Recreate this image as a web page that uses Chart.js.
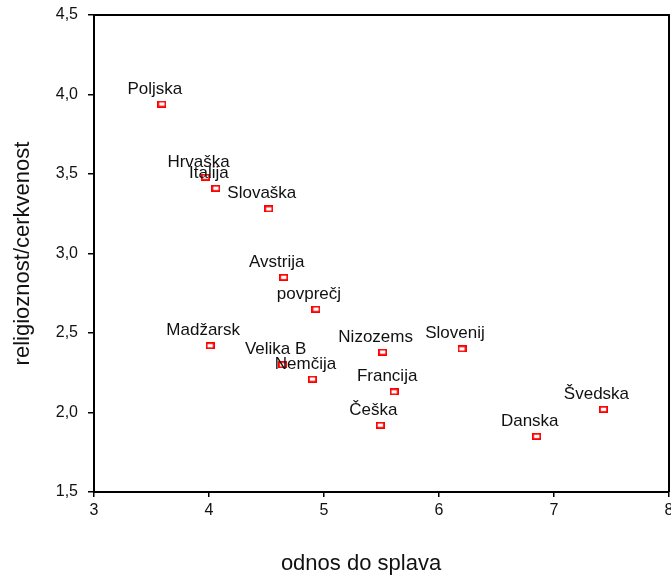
<!DOCTYPE html>
<html>
<head>
<meta charset="utf-8">
<script src="https://cdn.jsdelivr.net/npm/chart.js@4"></script>
<style>
  html, body { margin: 0; padding: 0; background: #fff; }
  #chart { display: block; }
</style>
</head>
<body>
<canvas id="chart" width="671" height="575"></canvas>
<script>
// ---- DATA ----
const countries = ['Poljska', 'Hrvaška', 'Italija', 'Slovaška', 'Avstrija', 'povprečj', 'Madžarsk',
  'Velika B', 'Nemčija', 'Nizozems', 'Slovenij', 'Francija', 'Češka', 'Danska', 'Švedska'];
const abortion = [3.59, 3.97, 4.06, 4.52, 4.65, 4.93, 4.01, 4.64, 4.90, 5.51, 6.20, 5.61, 5.49, 6.85, 7.43];
const religiosity = [3.94, 3.48, 3.41, 3.28, 2.85, 2.65, 2.42, 2.30, 2.21, 2.38, 2.40, 2.13, 1.92, 1.85, 2.02];

const xTitle = 'odnos do splava';
const yTitle = 'religioznost/cerkvenost';

const FONT = 'Liberation Sans, Arial, sans-serif';

// hollow red rectangle marker
function makeMarker() {
  const c = document.createElement('canvas');
  c.width = 9; c.height = 7;
  const g = c.getContext('2d');
  g.strokeStyle = '#ff0000';
  g.lineWidth = 1.8;
  g.strokeRect(0.9, 0.9, 7.2, 5.2);
  return c;
}

// labels above points, frame, x title
const labelsPlugin = {
  id: 'labels',
  afterDatasetsDraw(chart) {
    const { ctx, chartArea } = chart;
    const meta = chart.getDatasetMeta(0);
    ctx.save();
    ctx.strokeStyle = '#000';
    ctx.lineWidth = 2;
    ctx.beginPath();
    ctx.moveTo(chartArea.left, chartArea.top);
    ctx.lineTo(chartArea.right, chartArea.top);
    ctx.lineTo(chartArea.right, chartArea.bottom);
    ctx.stroke();

    ctx.fillStyle = '#111';
    ctx.font = '17px ' + FONT;
    ctx.textAlign = 'center';
    ctx.textBaseline = 'alphabetic';
    meta.data.forEach((pt, i) => {
      ctx.fillText(countries[i], pt.x - 7, pt.y - 10.5);
    });

    ctx.font = '22px ' + FONT;
    ctx.textBaseline = 'middle';
    ctx.fillText(xTitle, 361, 564);
    ctx.restore();
  },
};

const marker = makeMarker();

new Chart(document.getElementById('chart').getContext('2d'), {
  type: 'scatter',
  data: {
    datasets: [{
      data: abortion.map((x, i) => ({ x, y: religiosity[i] })),
      pointStyle: marker,
      pointRadius: 5,
      pointHoverRadius: 5,
    }],
  },
  options: {
    responsive: false,
    animation: false,
    layout: { autoPadding: false, padding: { top: 15, right: 2, left: 0, bottom: 0 } },
    plugins: { legend: { display: false }, tooltip: { enabled: false } },
    scales: {
      x: {
        type: 'linear',
        min: 3, max: 8,
        afterFit: s => { s.height = 83; s.paddingLeft = 0; s.paddingRight = 0; },
        border: { display: true, color: '#000', width: 2 },
        grid: { drawOnChartArea: false, drawTicks: true, tickLength: 5, color: '#000', lineWidth: 1.5 },
        ticks: { stepSize: 1, color: '#111', font: { family: FONT, size: 16 }, padding: 4 },
      },
      y: {
        type: 'linear',
        min: 1.5, max: 4.5,
        afterFit: s => { s.width = 94; s.paddingTop = 0; s.paddingBottom = 0; },
        border: { display: true, color: '#000', width: 2 },
        grid: { drawOnChartArea: false, drawTicks: true, tickLength: 6, color: '#000', lineWidth: 1.5 },
        ticks: {
          stepSize: 0.5, color: '#111', font: { family: FONT, size: 16 }, padding: 10,
          callback: v => v.toFixed(1).replace('.', ','),
        },
        title: { display: true, text: yTitle, color: '#111', font: { family: FONT, size: 22 }, padding: { top: 10 } },
      },
    },
  },
  plugins: [labelsPlugin],
});
</script>
</body>
</html>
